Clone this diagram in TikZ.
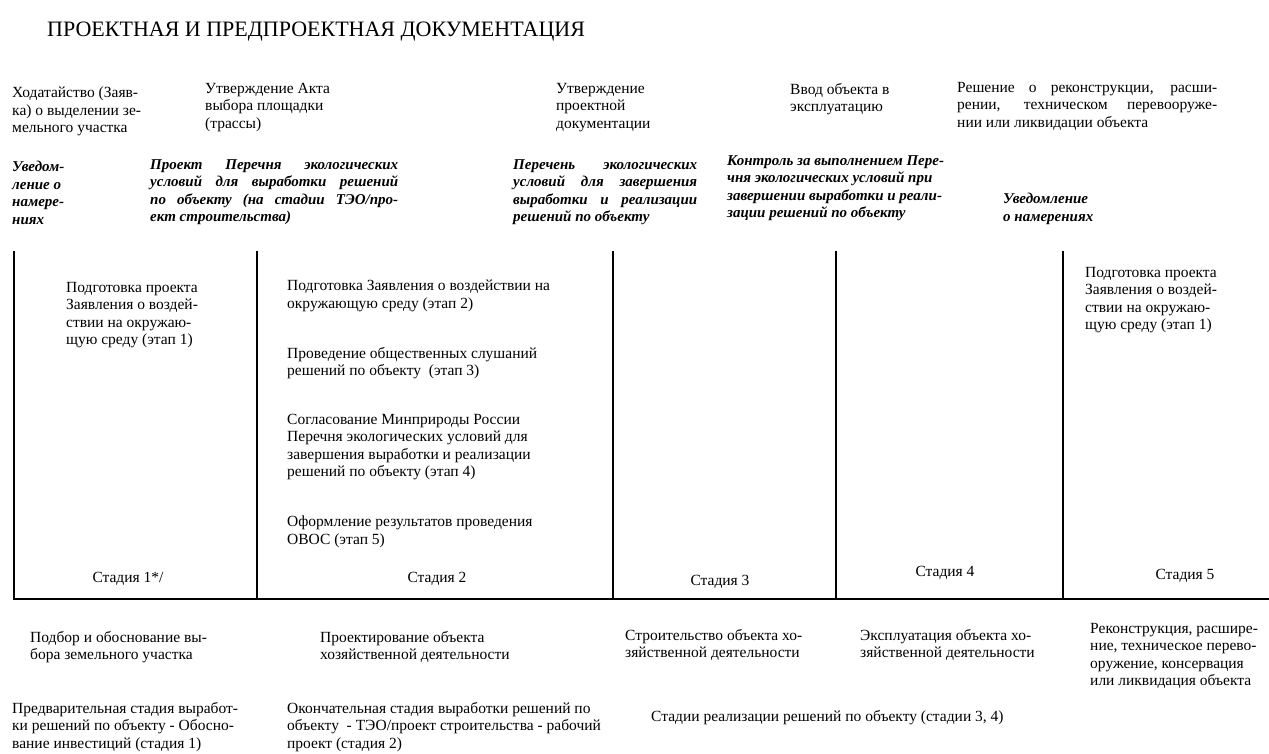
\documentclass[tikz,border=0pt]{standalone}
\usepackage{fontspec}
\setmainfont{Liberation Serif}
\newcommand{\jl}[2]{\makebox[#1][s]{#2}}
\begin{document}
\begin{tikzpicture}[x=1pt,y=-1pt,
  txt/.style={anchor=north west,inner sep=0pt,align=left,font=\fontsize{15.5}{17.5}\selectfont},
  itx/.style={anchor=north west,inner sep=0pt,align=left,font=\fontsize{15}{17.5}\selectfont\bfseries\itshape},
  one/.style={anchor=base west,inner sep=0pt,font=\fontsize{15.5}{17.5}\selectfont},
  stg/.style={anchor=base,inner sep=0pt,font=\fontsize{15.5}{17.5}\selectfont},
  bar/.style={line width=2.6pt,black}]
\useasboundingbox (0,0) rectangle (1269,753);
% title
\node[anchor=base west,inner sep=0pt,font=\fontsize{22}{24}\selectfont] (title) at (47,36) {ПРОЕКТНАЯ И ПРЕДПРОЕКТНАЯ ДОКУМЕНТАЦИЯ};
% top row
\node[txt] (t1) at (12,87) {Ходатайство (Заяв-\\ка) о выделении зе-\\мельного участка};
\node[txt] (t2) at (205,83) {Утверждение Акта\\выбора площадки\\(трассы)};
\node[txt] (t3) at (556,83) {Утверждение\\проектной\\документации};
\node[txt] (t4) at (790,83) {Ввод объекта в\\эксплуатацию};
\node[txt] (t5) at (957,82) {\jl{260pt}{Решение о реконструкции, расши-}\\\jl{260pt}{рении, техническом перевооруже-}\\нии или ликвидации объекта};
% italic row
\node[itx] (i1) at (12,161) {Уведом-\\ление о\\намере-\\ниях};
\node[itx] (i2) at (150,159) {\jl{248pt}{Проект Перечня экологических}\\\jl{248pt}{условий для выработки решений}\\\jl{248pt}{по объекту (на стадии ТЭО/про-}\\ект строительства)};
\node[itx] (i3) at (513,159) {\jl{184pt}{Перечень экологических}\\\jl{184pt}{условий для завершения}\\\jl{184pt}{выработки и реализации}\\решений по объекту};
\node[itx] (i4) at (727,155) {Контроль за выполнением Пере-\\чня экологических условий при\\завершении выработки и реали-\\зации решений по объекту};
\node[itx] (i5) at (1003,193) {Уведомление\\о намерениях};
% frame lines
\coordinate (b0) at (13,599);
\coordinate (bE) at (1269,599);
\coordinate (v1t) at (14,251);
\coordinate (v1b) at (14,599);
\coordinate (v2t) at (257,251);
\coordinate (v2b) at (257,599);
\coordinate (v3t) at (613,251);
\coordinate (v3b) at (613,599);
\coordinate (v4t) at (836,251);
\coordinate (v4b) at (836,599);
\coordinate (v5t) at (1063,251);
\coordinate (v5b) at (1063,599);
\draw[bar] (v1t) -- (v1b);
\draw[bar] (v2t) -- (v2b);
\draw[bar] (v3t) -- (v3b);
\draw[bar] (v4t) -- (v4b);
\draw[bar] (v5t) -- (v5b);
\draw[bar] (b0) -- (bE);
% column texts
\node[txt] (c1) at (66,282) {Подготовка проекта\\Заявления о воздей-\\ствии на окружаю-\\щую среду (этап 1)};
\node[txt] (c2a) at (287,280) {Подготовка Заявления о воздействии на\\окружающую среду (этап 2)};
\node[txt] (c2b) at (287,347) {Проведение общественных слушаний\\решений по объекту~~(этап 3)};
\node[txt] (c2c) at (287,414) {Согласование Минприроды России\\Перечня экологических условий для\\завершения выработки и реализации\\решений по объекту (этап 4)};
\node[txt] (c2d) at (287,516) {Оформление результатов проведения\\ОВОС (этап 5)};
\node[txt] (c5) at (1085,267) {Подготовка проекта\\Заявления о воздей-\\ствии на окружаю-\\щую среду (этап 1)};
% stage labels
\node[stg] (s1) at (128,582) {Стадия 1*/};
\node[stg] (s2) at (437,582) {Стадия 2};
\node[stg] (s3) at (720,585) {Стадия 3};
\node[stg] (s4) at (945,576) {Стадия 4};
\node[stg] (s5) at (1185,579) {Стадия 5};
% below
\node[txt] (d1) at (30,631) {Подбор и обоснование вы-\\бора земельного участка};
\node[txt] (d2) at (320,631) {Проектирование объекта\\хозяйственной деятельности};
\node[txt] (d3) at (625,629) {Строительство объекта хо-\\зяйственной деятельности};
\node[txt] (d4) at (860,629) {Эксплуатация объекта хо-\\зяйственной деятельности};
\node[txt] (d5) at (1090,623) {Реконструкция, расшире-\\ние, техническое перево-\\оружение, консервация\\или ликвидация объекта};
\node[txt] (e1) at (12,702) {Предварительная стадия выработ-\\ки решений по объекту - Обосно-\\вание инвестиций (стадия 1)};
\node[txt] (e2) at (287,702) {Окончательная стадия выработки решений по\\объекту~~- ТЭО/проект строительства - рабочий\\проект (стадия 2)};
\node[one] (e3) at (651,721) {Стадии реализации решений по объекту (стадии 3, 4)};
\end{tikzpicture}
\end{document}
